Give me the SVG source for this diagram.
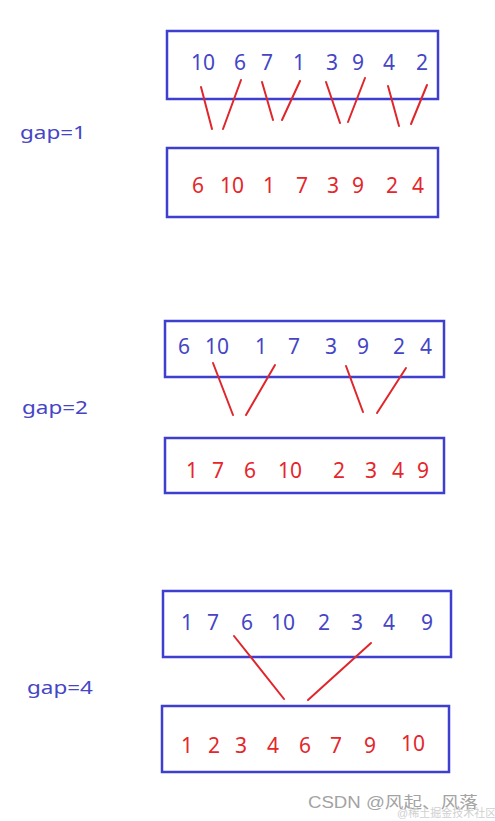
<svg xmlns="http://www.w3.org/2000/svg" width="495" height="821" viewBox="0 0 495 821">
<style>
.box{fill:none;stroke:#3f3fcf;stroke-width:2.5}
.b{fill:#4545c6;font-family:"Noto Sans","Liberation Sans",sans-serif;font-size:21px;text-anchor:middle}
.r{fill:#e5262b;font-family:"Noto Sans","Liberation Sans",sans-serif;font-size:21px;text-anchor:middle}
.lbl{fill:#4545c6;font-family:"Noto Sans","Liberation Sans",sans-serif;font-size:18px}
.ln{stroke:#e0262b;stroke-width:2;stroke-linecap:round}
.wm{fill:#a3a3a3;font-family:"Liberation Sans","Noto Sans CJK SC",sans-serif;font-size:16px}
.wm2{fill:#d0d0d0;font-family:"Liberation Sans","Noto Sans CJK SC",sans-serif;font-size:11px}
</style>
<rect width="495" height="821" fill="#ffffff"/>
<g id="label-gap1"><text class="lbl" x="20" y="139" textLength="66" lengthAdjust="spacingAndGlyphs">gap=1</text></g>
<g id="label-gap2"><text class="lbl" x="22" y="414" textLength="66" lengthAdjust="spacingAndGlyphs">gap=2</text></g>
<g id="label-gap4"><text class="lbl" x="27" y="694" textLength="66" lengthAdjust="spacingAndGlyphs">gap=4</text></g>

<g id="row1-before">
<rect class="box" x="167" y="31" width="271" height="68"/>
<text class="b" y="70"><tspan x="203">10</tspan><tspan x="240">6</tspan><tspan x="267">7</tspan><tspan x="299">1</tspan><tspan x="332">3</tspan><tspan x="358">9</tspan><tspan x="389">4</tspan><tspan x="422">2</tspan></text>
</g>
<g id="row1-after">
<rect class="box" x="167" y="148" width="271" height="69"/>
<text class="r" y="193"><tspan x="198">6</tspan><tspan x="232">10</tspan><tspan x="269">1</tspan><tspan x="302">7</tspan><tspan x="333">3</tspan><tspan x="358">9</tspan><tspan x="392">2</tspan><tspan x="418">4</tspan></text>
</g>

<g id="row2-before">
<rect class="box" x="165" y="321" width="279" height="56"/>
<text class="b" y="354"><tspan x="184">6</tspan><tspan x="217">10</tspan><tspan x="261">1</tspan><tspan x="294">7</tspan><tspan x="331">3</tspan><tspan x="363">9</tspan><tspan x="399">2</tspan><tspan x="426">4</tspan></text>
</g>
<g id="row2-after">
<rect class="box" x="165" y="438" width="279" height="55"/>
<text class="r" y="478"><tspan x="192">1</tspan><tspan x="218">7</tspan><tspan x="250">6</tspan><tspan x="290">10</tspan><tspan x="339">2</tspan><tspan x="371">3</tspan><tspan x="398">4</tspan><tspan x="423">9</tspan></text>
</g>

<g id="row3-before">
<rect class="box" x="163" y="591" width="288" height="66"/>
<text class="b" y="630"><tspan x="187">1</tspan><tspan x="213">7</tspan><tspan x="247">6</tspan><tspan x="283">10</tspan><tspan x="324">2</tspan><tspan x="357">3</tspan><tspan x="389">4</tspan><tspan x="427">9</tspan></text>
</g>
<g id="row3-after">
<rect class="box" x="162" y="706" width="287" height="66"/>
<text class="r" y="753"><tspan x="187">1</tspan><tspan x="214">2</tspan><tspan x="241">3</tspan><tspan x="273">4</tspan><tspan x="305">6</tspan><tspan x="336">7</tspan><tspan x="370">9</tspan><tspan x="413" dy="-2">10</tspan></text>
</g>

<g id="connectors">
<line class="ln" x1="201" y1="87" x2="212" y2="129"/>
<line class="ln" x1="241" y1="80" x2="223" y2="129"/>
<line class="ln" x1="262" y1="82" x2="273" y2="120"/>
<line class="ln" x1="300" y1="81" x2="282" y2="120"/>
<line class="ln" x1="326" y1="82" x2="340" y2="123"/>
<line class="ln" x1="365" y1="78" x2="348" y2="122"/>
<line class="ln" x1="388" y1="86" x2="399" y2="126"/>
<line class="ln" x1="427" y1="85" x2="411" y2="124"/>

<line class="ln" x1="213" y1="363" x2="233" y2="415"/>
<line class="ln" x1="275" y1="365" x2="246" y2="415"/>
<line class="ln" x1="346" y1="366" x2="363" y2="412"/>
<line class="ln" x1="406" y1="368" x2="377" y2="413"/>

<line class="ln" x1="234" y1="636" x2="284" y2="699"/>
<line class="ln" x1="371" y1="643" x2="308" y2="700"/>
</g>

<g id="watermark">
<text class="wm" x="308" y="808" textLength="170" lengthAdjust="spacingAndGlyphs">CSDN @风起、风落</text>
<text class="wm2" x="397" y="817">@稀土掘金技术社区</text>
</g>
</svg>
